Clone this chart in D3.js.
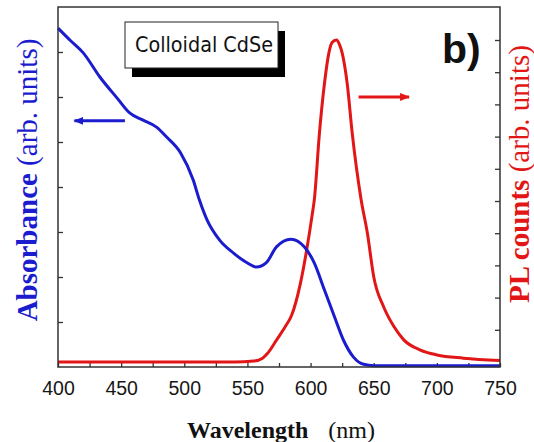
<!DOCTYPE html>
<html>
<head>
<meta charset="utf-8">
<script src="https://cdn.jsdelivr.net/npm/d3@7.9.0/dist/d3.min.js"></script>
<style>
  body { margin: 0; background: #fff; }
  svg { display: block; }
</style>
</head>
<body>
<svg id="chart" width="534" height="442"></svg>
<script>
// absorbance (left axis)
const absWavelength = [400, 410, 420, 433, 447, 457, 467, 478, 486, 497, 507, 512, 518, 528, 539, 550, 557, 565, 573, 584.5, 595, 603, 611, 619, 626, 634, 642, 650, 700, 750];
const absValues = [7.53, 7.25, 6.98, 6.45, 5.97, 5.64, 5.49, 5.33, 5.11, 4.76, 4.16, 3.71, 3.27, 2.82, 2.53, 2.31, 2.22, 2.32, 2.67, 2.84, 2.67, 2.31, 1.71, 1.11, 0.6, 0.22, 0.06, 0.03, 0.03, 0.03];

// photoluminescence (right axis)
const plWavelength = [400, 450, 500, 540, 555, 562, 566, 573, 580, 585, 592, 597, 601, 603, 607, 611, 614.5, 617, 620.5, 623, 625, 629, 633, 640, 645, 650, 658, 666, 674, 687, 700, 721, 750];
const plValues = [0, 0, 0, 0, 0.03, 0.12, 0.27, 0.68, 1.1, 1.45, 2.45, 3.5, 4.5, 5.05, 7.1, 8.65, 9.6, 9.92, 10.0, 9.85, 9.6, 8.65, 7.1, 5.05, 4.0, 2.65, 1.7, 1.1, 0.68, 0.37, 0.22, 0.12, 0.05];

const xTickLabels = [400, 450, 500, 550, 600, 650, 700, 750];
const xMinorTicks = d3.range(400, 751, 25);
const absTicks = [1, 2, 3, 4, 5, 6, 7];
const plTicks = [1, 2, 3, 4, 5, 6, 7, 8, 9, 10];

const blue = '#1c1ccf';
const red = '#e21616';

const svg = d3.select('#chart');
const plotLeft = 58, plotRight = 500, plotTop = 7, plotBottom = 367;

let x = d3.scaleLinear().domain([400, 750]).range([plotLeft, plotRight]);
let yAbs = d3.scaleLinear().domain([0, 8]).range([plotBottom, plotTop]);
let yPL = d3.scaleLinear().domain([0, 10]).range([362, 40]);

// ticks (all point inward)
svg.append('g')
  .attr('transform', `translate(0,${plotBottom})`)
  .call(d3.axisBottom(x).tickValues(xMinorTicks).tickSize(-4).tickFormat(''))
  .call(g => g.select('.domain').remove());

svg.append('g')
  .attr('transform', `translate(0,${plotBottom})`)
  .call(d3.axisBottom(x).tickValues(xTickLabels).tickSize(0).tickPadding(14).tickFormat(d3.format('d')))
  .call(g => g.select('.domain').remove())
  .selectAll('text')
  .attr('font-family', 'Liberation Sans, Arial, sans-serif')
  .attr('font-size', 19.5)
  .attr('fill', '#161616');

svg.append('g')
  .attr('transform', `translate(${plotLeft},0)`)
  .call(d3.axisLeft(yAbs).tickValues(absTicks).tickSize(-5).tickFormat(''))
  .call(g => g.select('.domain').remove());

svg.append('g')
  .attr('transform', `translate(${plotRight},0)`)
  .call(d3.axisRight(yPL).tickValues(plTicks).tickSize(-5).tickFormat(''))
  .call(g => g.select('.domain').remove());

svg.selectAll('.tick line').attr('stroke', '#333').attr('stroke-width', 1.3);

// curves
let absLine = d3.line()
  .x((d, i) => x(absWavelength[i]))
  .y(d => yAbs(d))
  .curve(d3.curveMonotoneX);
let plLine = d3.line()
  .x((d, i) => x(plWavelength[i]))
  .y(d => yPL(d))
  .curve(d3.curveMonotoneX);

svg.append('path')
  .attr('d', plLine(plValues))
  .attr('fill', 'none')
  .attr('stroke', red)
  .attr('stroke-width', 3);

svg.append('path')
  .attr('d', absLine(absValues))
  .attr('fill', 'none')
  .attr('stroke', blue)
  .attr('stroke-width', 3);

// frame
svg.append('rect')
  .attr('x', plotLeft).attr('y', plotTop)
  .attr('width', plotRight - plotLeft).attr('height', plotBottom - plotTop)
  .attr('fill', 'none')
  .attr('stroke', '#333')
  .attr('stroke-width', 1.5);

// arrows pointing to each axis
const defs = svg.append('defs');
[['headBlue', blue], ['headRed', red]].forEach(([id, c]) => {
  defs.append('marker')
    .attr('id', id)
    .attr('viewBox', '0 0 10 8')
    .attr('refX', 9).attr('refY', 4)
    .attr('markerWidth', 10).attr('markerHeight', 8)
    .attr('markerUnits', 'userSpaceOnUse')
    .attr('orient', 'auto')
    .append('path')
    .attr('d', 'M0,0 L10,4 L0,8 Z')
    .attr('fill', c);
});

svg.append('line')
  .attr('x1', x(453)).attr('x2', x(413))
  .attr('y1', yAbs(5.47)).attr('y2', yAbs(5.47))
  .attr('stroke', blue).attr('stroke-width', 3)
  .attr('marker-end', 'url(#headBlue)');

svg.append('line')
  .attr('x1', x(638)).attr('x2', x(678))
  .attr('y1', yPL(8.23)).attr('y2', yPL(8.23))
  .attr('stroke', red).attr('stroke-width', 3)
  .attr('marker-end', 'url(#headRed)');

// sample label with drop shadow
svg.append('rect')
  .attr('x', 132).attr('y', 31).attr('width', 153).attr('height', 46)
  .attr('fill', '#000');
svg.append('rect')
  .attr('x', 125).attr('y', 22).attr('width', 153).attr('height', 46)
  .attr('fill', '#fff').attr('stroke', '#222').attr('stroke-width', 1);
svg.append('text')
  .attr('x', 135).attr('y', 52)
  .attr('font-family', 'Comic Sans MS, DejaVu Sans, sans-serif')
  .attr('font-size', 22)
  .attr('textLength', 138)
  .attr('lengthAdjust', 'spacingAndGlyphs')
  .attr('fill', '#111')
  .text('Colloidal CdSe');

svg.append('text')
  .attr('x', 442).attr('y', 63)
  .attr('font-family', 'Liberation Sans, Arial, sans-serif')
  .attr('font-weight', 'bold')
  .attr('font-size', 41)
  .attr('fill', '#111')
  .text('b)');

// axis titles
let xTitle = svg.append('text')
  .attr('x', 281).attr('y', 438)
  .attr('text-anchor', 'middle')
  .attr('font-family', 'Liberation Serif, Times New Roman, serif')
  .attr('font-size', 24)
  .attr('fill', '#111');
xTitle.append('tspan').attr('font-weight', 'bold').text('Wavelength');
xTitle.append('tspan').attr('dx', 14).text(' (nm)');

let absTitle = svg.append('text')
  .attr('transform', 'translate(37,180) rotate(-90)')
  .attr('text-anchor', 'middle')
  .attr('font-family', 'Liberation Serif, Times New Roman, serif')
  .attr('font-size', 29)
  .attr('fill', blue);
absTitle.append('tspan').attr('font-weight', 'bold').text('Absorbance');
absTitle.append('tspan').text(' (arb. units)');

let plTitle = svg.append('text')
  .attr('transform', 'translate(529,174) rotate(-90)')
  .attr('text-anchor', 'middle')
  .attr('font-family', 'Liberation Serif, Times New Roman, serif')
  .attr('font-size', 29)
  .attr('fill', red);
plTitle.append('tspan').attr('font-weight', 'bold').text('PL counts');
plTitle.append('tspan').text(' (arb. units)');
</script>
</body>
</html>
